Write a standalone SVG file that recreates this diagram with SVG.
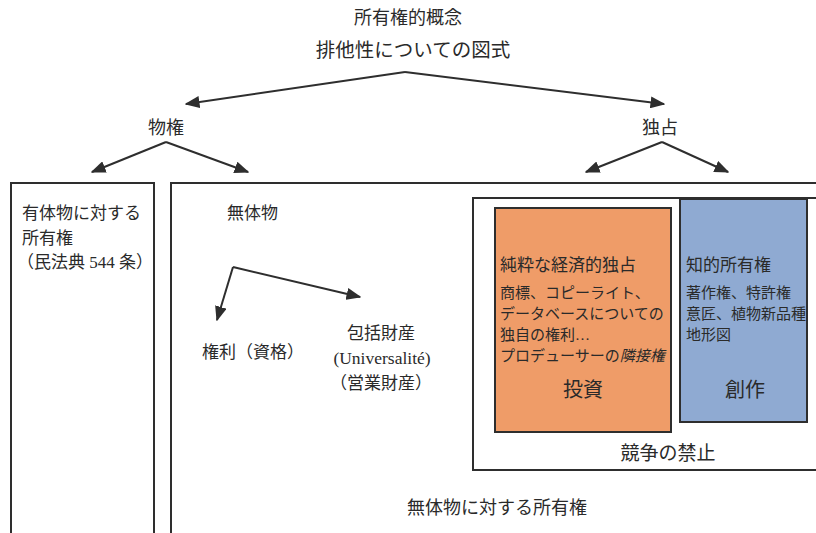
<svg xmlns="http://www.w3.org/2000/svg" width="816" height="533" viewBox="0 0 816 533">
<defs>
<style>
text{font-family:"Liberation Serif","Noto Sans CJK JP",serif;fill:#2a2a2a;}
.t{font-size:17px;}
.s{font-size:15px;}
.b{font-size:20px;}
.box{fill:none;stroke:#2e2e2e;stroke-width:2;}
.c{stroke:#2e2e2e;stroke-width:2;fill:none;marker-end:url(#ah);}
</style>
<marker id="ah" viewBox="0 0 10 10" refX="9" refY="5" markerWidth="15" markerHeight="12" markerUnits="userSpaceOnUse" orient="auto" preserveAspectRatio="none">
<path d="M0,0 L10,5 L0,10 z" fill="#2e2e2e"/>
</marker>
</defs>
<rect width="816" height="533" fill="#ffffff"/>
<g id="title">
<text class="t" x="408" y="24" text-anchor="middle" style="font-size:18px">所有権的概念</text>
<text class="t" x="413" y="57" text-anchor="middle" style="font-size:19.5px">排他性についての図式</text>
</g>
<g id="bukken"><text class="t" x="166" y="134" text-anchor="middle" style="font-size:18px">物権</text></g>
<g id="dokusen"><text class="t" x="660" y="134" text-anchor="middle" style="font-size:18px">独占</text></g>
<g id="yutaibutsu">
<rect class="box" x="11" y="183" width="143" height="360"/>
<text class="t" x="22" y="219">有体物に対する</text>
<text class="t" x="22" y="244">所有権</text>
<text class="t" x="17" y="268">（民法典 544 条）</text>
</g>
<g id="mutaibutsu">
<rect class="box" x="171" y="183" width="660" height="360"/>
<text class="t" x="227" y="219">無体物</text>
<text class="t" x="497" y="514" text-anchor="middle" style="font-size:18px">無体物に対する所有権</text>
</g>
<g id="kenri"><text class="t" x="202" y="358">権利（資格）</text></g>
<g id="hokatsu">
<text class="t" x="381" y="339" text-anchor="middle">包括財産</text>
<text class="t" x="382" y="364" text-anchor="middle" style="font-size:17.5px">(Universalité)</text>
<text class="t" x="381" y="389" text-anchor="middle">（営業財産）</text>
</g>
<g id="kyoso">
<rect class="box" x="473" y="198" width="360" height="272"/>
<text class="b" x="668" y="460" text-anchor="middle" style="font-size:19px">競争の禁止</text>
</g>
<g id="toshi">
<rect x="495" y="208" width="176" height="224" fill="#EF9C68" stroke="#2e2e2e" stroke-width="2"/>
<text class="t" x="500" y="271">純粋な経済的独占</text>
<text class="s" x="500" y="298">商標、コピーライト、</text>
<text class="s" x="500" y="319">データベースについての</text>
<text class="s" x="500" y="340">独自の権利…</text>
<text class="s" x="500" y="361">プロデューサーの<tspan font-style="italic">隣接権</tspan></text>
<text class="b" x="583" y="397" text-anchor="middle">投資</text>
</g>
<g id="sosaku">
<rect x="680" y="199" width="127" height="223" fill="#8FAAD2" stroke="#2e2e2e" stroke-width="2"/>
<text class="t" x="686" y="271">知的所有権</text>
<text class="s" x="686" y="298">著作権、特許権</text>
<text class="s" x="686" y="319">意匠、植物新品種</text>
<text class="s" x="686" y="340">地形図</text>
<text class="b" x="745" y="397" text-anchor="middle">創作</text>
</g>
<g id="connectors">
<path class="c" d="M405,72 L186,104"/>
<path class="c" d="M405,72 L664,104"/>
<path class="c" d="M166,142 L92,172"/>
<path class="c" d="M166,142 L248,172"/>
<path class="c" d="M662,142 L586,172"/>
<path class="c" d="M662,142 L728,172"/>
<path class="c" d="M233,267 L217,320"/>
<path class="c" d="M233,267 L360,297"/>
</g>
</svg>
